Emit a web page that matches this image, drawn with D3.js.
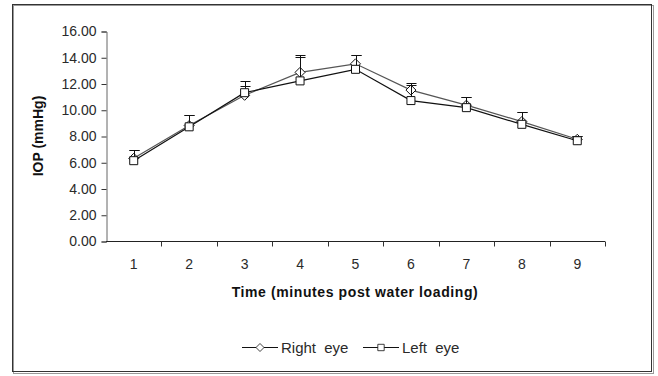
<!DOCTYPE html>
<meta charset="utf-8">
<script src="https://d3js.org/d3.v7.min.js"></script>
<style>
    body { margin: 0; background: #fff; }
    svg { display: block; font-family: "Liberation Sans", Arial, sans-serif; }
</style>
<div id="chart"></div>
<script>
    // data
    var times = [1, 2, 3, 4, 5, 6, 7, 8, 9];
    var rightEye = [6.30, 8.80, 11.10, 12.85, 13.50, 11.50, 10.35, 9.10, 7.75];
    var rightErr = [0.60, 0.80, 0.70, 1.35, 0.70, 0.55, 0.65, 0.75, 0.27];
    var leftEye = [6.12, 8.70, 11.30, 12.20, 13.08, 10.70, 10.16, 8.89, 7.64];
    var leftErr = [0.78, 0.90, 0.90, 1.80, 1.10, 1.20, 0.84, 0.96, 0.38];
    var yTicks = [0, 2, 4, 6, 8, 10, 12, 14, 16];

    var W = 658, H = 376;
    var margin = {top: 31, right: 53, bottom: 135, left: 106};

    var svg = d3.select("#chart").append("svg")
        .attr("width", W)
        .attr("height", H);

    // outer frame
    svg.append("rect").attr("x", 13.5).attr("y", 5.5).attr("width", 640).attr("height", 368)
        .attr("fill", "none").attr("stroke", "#999").attr("stroke-width", 1);
    svg.append("rect").attr("x", 12.5).attr("y", 4.5).attr("width", 639).attr("height", 367)
        .attr("fill", "none").attr("stroke", "#333").attr("stroke-width", 1);

    var x = d3.scaleBand()
        .domain(times)
        .range([margin.left, W - margin.right]);

    var y = d3.scaleLinear()
        .domain([0, 16])
        .range([H - margin.bottom, margin.top]);

    var cx = function(d, i) { return x(times[i]) + x.bandwidth() / 2; };

    // y axis
    var yAxis = svg.append("g")
        .attr("transform", "translate(" + (margin.left + 0.5) + ",0.5)")
        .call(d3.axisLeft(y).tickValues(yTicks).tickSize(5).tickPadding(5)
            .tickFormat(d3.format(".2f")));
    yAxis.select(".domain").attr("stroke", "#666");
    yAxis.selectAll(".tick line").attr("stroke", "#333");
    yAxis.selectAll("text").attr("font-size", 14).attr("fill", "#2a2a2a")
        .attr("font-family", "Liberation Sans, Arial, sans-serif");

    // x axis, ticks sit between categories
    var xAxis = svg.append("g")
        .attr("transform", "translate(0," + (H - margin.bottom + 0.5) + ")");
    xAxis.append("line")
        .attr("x1", margin.left).attr("x2", W - margin.right)
        .attr("stroke", "#222");
    xAxis.selectAll(".sep")
        .data(times)
        .enter().append("line")
        .attr("x1", function(d) { return Math.round(x(d) + x.bandwidth()) + 0.5; })
        .attr("x2", function(d) { return Math.round(x(d) + x.bandwidth()) + 0.5; })
        .attr("y1", 0).attr("y2", 5)
        .attr("stroke", "#333");
    xAxis.selectAll(".lbl")
        .data(times)
        .enter().append("text")
        .attr("x", function(d) { return x(d) + x.bandwidth() / 2; })
        .attr("y", 27)
        .attr("text-anchor", "middle")
        .attr("font-size", 14)
        .attr("fill", "#2a2a2a")
        .text(function(d) { return d; });

    // axis titles
    svg.append("text")
        .attr("x", 355).attr("y", 297)
        .attr("text-anchor", "middle")
        .attr("font-size", 14).attr("font-weight", "bold")
        .attr("letter-spacing", 0.6)
        .attr("fill", "#111")
        .text("Time (minutes post water loading)");
    svg.append("text")
        .attr("transform", "translate(43," + 136 + ") rotate(-90)")
        .attr("text-anchor", "middle")
        .attr("font-size", 14).attr("font-weight", "bold")
        .attr("fill", "#111")
        .text("IOP (mmHg)");

    var line = d3.line()
        .x(function(d, i) { return cx(d, i); })
        .y(function(d) { return y(d); });

    function drawSeries(vals, errs, color, shape) {
        var g = svg.append("g");
        // error bars (upper only)
        g.selectAll(".err")
            .data(vals)
            .enter().append("path")
            .attr("d", function(d, i) {
                var px = Math.round(cx(d, i)) + 0.5, top = Math.round(y(d + errs[i])) + 0.5;
                return "M" + px + "," + y(d) + "V" + top + "M" + (px - 5) + "," + top + "H" + (px + 5);
            })
            .attr("stroke", "#111").attr("fill", "none");
        g.append("path")
            .datum(vals)
            .attr("d", line)
            .attr("fill", "none")
            .attr("stroke", color)
            .attr("stroke-width", 1.2);
        g.selectAll(".pt")
            .data(vals)
            .enter().append("path")
            .attr("transform", function(d, i) { return "translate(" + cx(d, i) + "," + y(d) + ")"; })
            .attr("d", shape)
            .attr("fill", "#fff")
            .attr("stroke", "#111");
    }

    var diamond = "M0,-5L5,0L0,5L-5,0Z";
    var square = "M-4,-4H4V4H-4Z";

    drawSeries(rightEye, rightErr, "#555", diamond);
    drawSeries(leftEye, leftErr, "#111", square);

    // legend
    var leg = svg.append("g").attr("transform", "translate(0,347.5)");
    var items = [
        {name: "Right eye", x: 242, shape: diamond, color: "#555"},
        {name: "Left eye", x: 363, shape: square, color: "#111"}
    ];
    items.forEach(function(it) {
        leg.append("line").attr("x1", it.x).attr("x2", it.x + 36)
            .attr("stroke", "#111").attr("stroke-width", 1.2);
        leg.append("path").attr("d", it.shape)
            .attr("transform", "translate(" + (it.x + 18) + ",0) scale(0.8)")
            .attr("fill", "#fff").attr("stroke", "#111");
        leg.append("text").attr("x", it.x + 39).attr("y", 5.5)
            .attr("font-size", 15).attr("fill", "#2a2a2a")
            .attr("word-spacing", 4)
            .text(it.name);
    });
</script>
